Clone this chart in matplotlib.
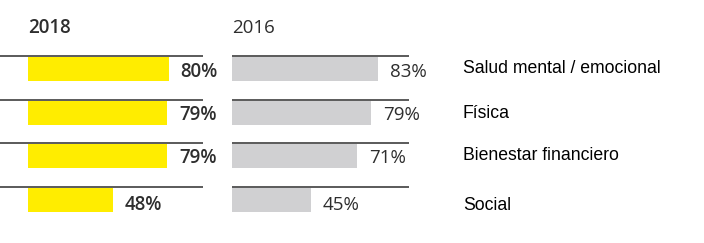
import matplotlib.pyplot as plt

categories = ['Salud mental / emocional', 'Física', 'Bienestar financiero', 'Social']
vals_2018 = [80, 79, 79, 48]
vals_2016 = [83, 79, 71, 45]
years = ['2018', '2016']

W, H = 704, 243
PX = 1.765  # pixels per percentage point
ROW = 43.7  # pixels per row
value_y = [72, 115, 158, 205]   # pixel rows of the value labels
label_y = [68, 113, 156, 205]   # pixel rows of the category labels

fig = plt.figure(figsize=(W / 100, H / 100), dpi=100)

num_font = ['Open Sans', 'DejaVu Sans']
dark = '#2e2e2e'


def make_panel(x0, x1, bar_left, vals, color, year, bold):
    ax = fig.add_axes([x0 / W, 0, (x1 - x0) / W, 1])
    ax.set_xlim((x0 - bar_left) / PX, (x1 - bar_left) / PX)
    ax.set_ylim((H - 56) / ROW, -56 / ROW)
    ax.axis('off')
    ys = [i + 13 / ROW for i in range(len(vals))]
    ax.barh(ys, vals, height=24 / ROW, left=0, color=color)
    for i in range(len(vals)):
        ax.axhline(i, color=dark, lw=1.1)
    for yp, v in zip(value_y, vals):
        ax.text(v + 11.5 / PX, (yp - 56) / ROW, f'{v}%', va='center', ha='left',
                fontsize=13.5, family=num_font, color=dark,
                fontweight='semibold' if bold else 'normal')
    ax.text(0, -28 / ROW, year, va='center', ha='left', fontsize=13.5,
            family=num_font, color=dark,
            fontweight='semibold' if bold else 'normal')
    return ax


make_panel(0, 203, 28, vals_2018, '#ffed00', years[0], True)
make_panel(232, 409, 232, vals_2016, '#d0d0d2', years[1], False)

for cat, y in zip(categories, label_y):
    fig.text(463 / W, 1 - y / H, cat, va='center', ha='left', fontsize=12.7,
             family='Liberation Sans', color='black')

fig.savefig('out.png', dpi=100)
